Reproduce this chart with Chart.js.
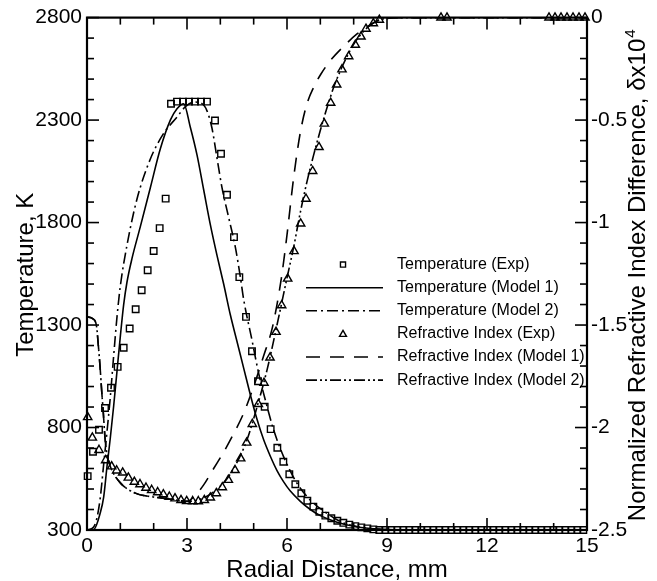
<!DOCTYPE html>
<html>
<head>
<meta charset="utf-8">
<script src="https://cdn.jsdelivr.net/npm/chart.js@4"></script>
<style>
  html, body { margin: 0; padding: 0; background: #fff; }
  canvas { display: block; }
</style>
</head>
<body>
<canvas id="radialChart" width="657" height="581"></canvas>
<script>
// tick labels
const xTickValues = [0, 3, 6, 9, 12, 15];
const tempTickValues = [300, 800, 1300, 1800, 2300, 2800];
const deltaTickValues = [-2.5, -2, -1.5, -1, -0.5, 0];

// Temperature (Exp), K
const tempExpX = [0.02, 0.18, 0.36, 0.54, 0.72, 0.92, 1.10, 1.28, 1.46, 1.64,
  1.82, 2.00, 2.18, 2.36, 2.52, 2.70, 2.88, 3.06, 3.24, 3.42,
  3.60, 3.84, 4.02, 4.20, 4.41, 4.57, 4.77, 4.95, 5.13, 5.33,
  5.51, 5.71, 5.89, 6.07, 6.25, 6.43, 6.61, 6.79, 6.97, 7.15,
  7.33, 7.51, 7.69, 7.87, 8.05, 8.23, 8.41, 8.59,
  8.77, 8.95, 9.13, 9.31, 9.49, 9.67, 9.85, 10.03, 10.21, 10.39,
  10.57, 10.75, 10.93, 11.11, 11.29, 11.47, 11.65, 11.83, 12.01, 12.19,
  12.37, 12.55, 12.73, 12.91, 13.09, 13.27, 13.45, 13.63, 13.81, 13.99,
  14.17, 14.35, 14.53, 14.71, 14.89];
const tempExpK = [563, 682, 789, 895, 994, 1096, 1189, 1283, 1377, 1470,
  1567, 1661, 1773, 1917, 2380, 2390, 2390, 2390, 2390, 2390,
  2390, 2298, 2136, 1936, 1729, 1534, 1340, 1172, 1026, 901,
  792, 701, 633, 572, 523, 479, 443, 414, 389, 370,
  357, 345, 335, 326, 319, 313, 308, 303,
  300, 300, 300, 300, 300, 300, 300, 300, 300, 300,
  300, 300, 300, 300, 300, 300, 300, 300, 300, 300,
  300, 300, 300, 300, 300, 300, 300, 300, 300, 300,
  300, 300, 300, 300, 300];

// Temperature (Model 1)
const tempM1X = [0, 0.2, 0.4, 0.5, 0.6, 0.7, 0.8, 0.9, 1.0, 1.1,
  1.2, 1.35, 1.6, 1.9, 2.2, 2.5, 2.7, 2.9, 3.1, 3.3,
  3.5, 3.7, 3.9, 4.1, 4.3, 4.5, 4.7, 4.9, 5.1, 5.3,
  5.5, 5.7, 5.9, 6.1, 6.4, 6.7, 7.0, 7.5, 8.0, 8.5,
  9.0, 10, 15];
const tempM1K = [300, 302, 385, 460, 610, 750, 905, 1075, 1245, 1400,
  1510, 1625, 1780, 1970, 2160, 2300, 2355, 2380, 2265, 2130,
  1960, 1790, 1640, 1500, 1350, 1220, 1090, 960, 840, 740,
  660, 590, 535, 490, 440, 400, 370, 338, 318, 307,
  302, 300, 300];

// Temperature (Model 2)
const tempM2X = [0, 0.2, 0.3, 0.4, 0.5, 0.6, 0.7, 0.8, 0.9, 1.0,
  1.2, 1.5, 1.9, 2.3, 2.7, 2.95, 3.2, 3.45, 3.6, 3.75,
  3.9, 4.05, 4.25, 4.45, 4.6, 4.7, 4.95, 5.15, 5.35, 5.6,
  5.9, 6.3, 6.7, 7.2, 7.6, 8.0, 8.5, 9.0, 10, 15];
const tempM2K = [300, 315, 360, 460, 620, 780, 950, 1150, 1340, 1490,
  1690, 1915, 2110, 2235, 2315, 2365, 2388, 2380, 2345, 2260,
  2115, 1970, 1825, 1680, 1535, 1425, 1226, 1064, 934, 788,
  657, 528, 446, 381, 341, 320, 307, 302, 300, 300];

// Refractive Index (Exp), delta x 10^4
const riExpX = [0.02, 0.16, 0.36, 0.56, 0.74, 0.89, 1.07, 1.24, 1.42, 1.59,
  1.77, 1.94, 2.12, 2.29, 2.47, 2.64, 2.82, 2.99, 3.17, 3.34,
  3.52, 3.70, 3.88, 4.06, 4.24, 4.44, 4.61, 4.79, 4.96, 5.14,
  5.31, 5.49, 5.67, 5.84, 6.02, 6.21, 6.41, 6.57, 6.77, 6.96,
  7.12, 7.31, 7.49, 7.65, 7.85, 8.05, 8.22, 8.37, 8.59, 8.77,
  10.62, 10.80,
  13.86, 14.04, 14.22, 14.40, 14.58, 14.76, 14.94];
const riExpD = [-1.95, -2.05, -2.11, -2.16, -2.19, -2.21, -2.22, -2.245, -2.265, -2.277,
  -2.294, -2.305, -2.316, -2.326, -2.338, -2.346, -2.354, -2.359, -2.36, -2.36,
  -2.354, -2.342, -2.321, -2.292, -2.256, -2.208, -2.151, -2.074, -1.983, -1.886,
  -1.782, -1.659, -1.534, -1.404, -1.274, -1.14, -1.005, -0.884, -0.749, -0.632,
  -0.518, -0.416, -0.327, -0.253, -0.189, -0.133, -0.093, -0.055, -0.028, -0.011,
  0, 0,
  0, 0, 0, 0, 0, 0, 0];

// Refractive Index (Model 1)
const riM1X = [0, 0.18, 0.29, 0.34, 0.39, 0.44, 0.49, 0.54, 0.6, 0.7,
  1.0, 1.45, 1.95, 2.45, 3.0, 3.2, 3.5, 3.8, 4.1, 4.4,
  4.7, 5.0, 5.3, 5.55, 5.7, 5.85, 6.0, 6.2, 6.4, 6.6,
  6.8, 7.0, 7.3, 7.7, 8.1, 8.5, 8.8, 9.2, 15];
const riM1D = [-1.46, -1.47, -1.51, -1.6, -1.7, -1.82, -1.93, -2.05, -2.13, -2.19,
  -2.27, -2.32, -2.338, -2.348, -2.36, -2.34, -2.28, -2.2, -2.12, -2.03,
  -1.93, -1.8, -1.65, -1.52, -1.40, -1.25, -1.06, -0.78, -0.56, -0.42,
  -0.34, -0.28, -0.21, -0.14, -0.08, -0.035, -0.01, 0, 0];

// Refractive Index (Model 2)
const riM2X = [0, 0.18, 0.29, 0.34, 0.39, 0.44, 0.49, 0.54, 0.6, 0.7,
  1.0, 1.45, 1.95, 2.45, 3.0, 3.3, 3.6, 3.9, 4.2, 4.5,
  4.8, 5.1, 5.4, 5.7, 6.0, 6.2, 6.4, 6.6, 6.8, 7.0,
  7.2, 7.4, 7.6, 7.8, 8.0, 8.2, 8.4, 8.6, 8.8, 9.5, 15];
const riM2D = [-1.46, -1.47, -1.51, -1.6, -1.7, -1.82, -1.93, -2.05, -2.13, -2.19,
  -2.27, -2.32, -2.338, -2.348, -2.36, -2.355, -2.335, -2.30, -2.25, -2.17,
  -2.06, -1.90, -1.72, -1.50, -1.27, -1.12, -0.95, -0.8, -0.67, -0.55,
  -0.44, -0.34, -0.26, -0.19, -0.13, -0.085, -0.05, -0.025, -0.01, 0, 0];

const FONT = "'Liberation Sans', Arial, sans-serif";
const toPoints = (xs, ys) => xs.map((x, i) => ({ x, y: ys[i] }));

const markerSet = (label, xs, ys, style, axis) => ({
  label,
  data: toPoints(xs, ys),
  yAxisID: axis,
  showLine: false,
  pointStyle: style,
  pointRadius: style === 'rect' ? 4.6 : 4.8,
  pointBorderWidth: 1.4,
  pointBorderColor: '#000',
  pointBackgroundColor: 'rgba(0,0,0,0)',
  borderColor: '#000',
  clip: false
});

const lineSet = (label, xs, ys, dash, axis) => ({
  label,
  data: toPoints(xs, ys),
  yAxisID: axis,
  showLine: true,
  borderColor: '#000',
  borderWidth: 1.6,
  borderDash: dash,
  pointRadius: 0,
  fill: false,
  cubicInterpolationMode: 'monotone'
});

// frame plus inward ticks on all four sides
const frameTicks = {
  id: 'frameTicks',
  beforeDatasetsDraw(chart) {
    const { ctx, chartArea: a, scales } = chart;
    const seg = (x1, y1, x2, y2) => { ctx.beginPath(); ctx.moveTo(x1, y1); ctx.lineTo(x2, y2); ctx.stroke(); };
    ctx.save();
    ctx.strokeStyle = '#000';
    ctx.lineWidth = 1.6;
    for (let v = 0; v <= 15; v++) {
      const px = scales.x.getPixelForValue(v);
      const len = v % 3 === 0 ? 12 : 7;
      seg(px, a.bottom, px, a.bottom - len);
      seg(px, a.top, px, a.top + len);
    }
    for (let v = 300; v <= 2800; v += 100) {
      const py = scales.y.getPixelForValue(v);
      seg(a.left, py, a.left + ((v - 300) % 500 === 0 ? 12 : 7), py);
    }
    for (let i = 0; i <= 25; i++) {
      const py = scales.y2.getPixelForValue(-2.5 + i * 0.1);
      seg(a.right, py, a.right - (i % 5 === 0 ? 12 : 7), py);
    }
    ctx.lineWidth = 2.2;
    ctx.strokeRect(a.left, a.top, a.right - a.left, a.bottom - a.top);
    ctx.restore();
  }
};

const titlesAndLegend = {
  id: 'titlesAndLegend',
  afterDraw(chart) {
    const { ctx, chartArea: a } = chart;
    const midY = (a.top + a.bottom) / 2;
    ctx.save();
    ctx.fillStyle = '#000';
    ctx.strokeStyle = '#000';

    // axis titles
    ctx.font = `24px ${FONT}`;
    ctx.textAlign = 'center';
    ctx.textBaseline = 'alphabetic';
    ctx.fillText('Radial Distance, mm', (a.left + a.right) / 2, 577);

    ctx.save();
    ctx.translate(33, midY + 1);
    ctx.rotate(-Math.PI / 2);
    ctx.fillText('Temperature, K', 0, 0);
    ctx.restore();

    ctx.save();
    ctx.translate(645, midY + 2);
    ctx.rotate(-Math.PI / 2);
    const main = 'Normalized Refractive Index Difference, \u03B4x10';
    ctx.font = `24px ${FONT}`;
    const wMain = ctx.measureText(main).width;
    ctx.font = `15px ${FONT}`;
    const wSup = ctx.measureText('4').width;
    const start = -(wMain + wSup) / 2;
    ctx.textAlign = 'left';
    ctx.font = `24px ${FONT}`;
    ctx.fillText(main, start, 0);
    ctx.font = `15px ${FONT}`;
    ctx.fillText('4', start + wMain + 1, -10);
    ctx.restore();

    // legend inside the plot
    const lineX0 = a.left + 219, lineX1 = a.left + 296, markX = a.left + 256, textX = a.left + 310;
    ctx.font = `16px ${FONT}`;
    ctx.textAlign = 'left';
    ctx.textBaseline = 'middle';
    chart.data.datasets.forEach((ds, i) => {
      const y = a.top + 247 + i * 23.1;
      ctx.save();
      if (ds.showLine) {
        ctx.lineWidth = ds.borderWidth;
        ctx.setLineDash(ds.borderDash || []);
        ctx.beginPath();
        ctx.moveTo(lineX0, y);
        ctx.lineTo(lineX1, y);
        ctx.stroke();
      } else {
        ctx.fillStyle = 'rgba(0,0,0,0)';
        ctx.lineWidth = 1.4;
        Chart.helpers.drawPoint(ctx, {
          pointStyle: ds.pointStyle,
          radius: ds.pointStyle === 'rect' ? 3.6 : 4,
          borderWidth: 1.4,
          rotation: 0
        }, markX, y + (ds.pointStyle === 'triangle' ? 0.5 : 0));
      }
      ctx.restore();
      ctx.fillText(ds.label, textX, y);
    });
    ctx.restore();
  }
};

const chart = new Chart(document.getElementById('radialChart'), {
  type: 'line',
  data: {
    datasets: [
      markerSet('Temperature (Exp)', tempExpX, tempExpK, 'rect', 'y'),
      lineSet('Temperature (Model 1)', tempM1X, tempM1K, [], 'y'),
      lineSet('Temperature (Model 2)', tempM2X, tempM2K, [11, 4, 2, 4], 'y'),
      markerSet('Refractive Index (Exp)', riExpX, riExpD, 'triangle', 'y2'),
      lineSet('Refractive Index (Model 1)', riM1X, riM1D, [14, 10], 'y2'),
      lineSet('Refractive Index (Model 2)', riM2X, riM2D, [11, 3, 2, 3, 2, 3], 'y2')
    ]
  },
  options: {
    responsive: false,
    devicePixelRatio: 1,
    animation: false,
    layout: { padding: { top: 17, left: 0, right: 0, bottom: 0 } },
    plugins: {
      legend: { display: false },
      tooltip: { enabled: false }
    },
    scales: {
      x: {
        type: 'linear',
        min: 0,
        max: 15,
        afterBuildTicks: s => { s.ticks = xTickValues.map(v => ({ value: v })); },
        afterFit: s => { s.height = 51; },
        ticks: { autoSkip: false, maxRotation: 0, padding: 4, color: '#000', font: { family: FONT, size: 21 }, callback: v => String(v) },
        grid: { display: false, drawTicks: false },
        border: { display: false }
      },
      y: {
        type: 'linear',
        position: 'left',
        min: 300,
        max: 2800,
        afterBuildTicks: s => { s.ticks = tempTickValues.map(v => ({ value: v })); },
        afterFit: s => { s.width = 87; },
        ticks: { autoSkip: false, padding: 5, color: '#000', font: { family: FONT, size: 21 }, callback: v => String(v) },
        grid: { display: false, drawTicks: false },
        border: { display: false }
      },
      y2: {
        type: 'linear',
        position: 'right',
        min: -2.5,
        max: 0,
        afterBuildTicks: s => { s.ticks = deltaTickValues.map(v => ({ value: v })); },
        afterFit: s => { s.width = 70; },
        ticks: { autoSkip: false, padding: 4, color: '#000', font: { family: FONT, size: 21 }, callback: v => String(v) },
        grid: { display: false, drawTicks: false },
        border: { display: false }
      }
    }
  },
  plugins: [frameTicks, titlesAndLegend]
});
</script>
</body>
</html>
